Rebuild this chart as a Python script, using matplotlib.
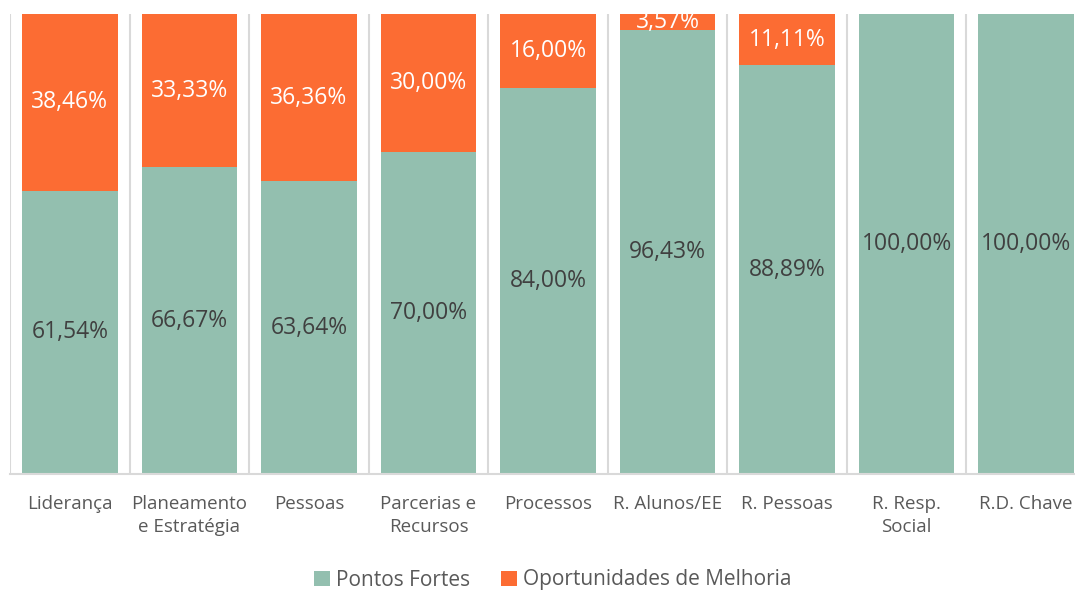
import numpy as np
import matplotlib.pyplot as plt

plt.rcParams['font.family'] = ['Open Sans', 'DejaVu Sans']

categories = ['Liderança', 'Planeamento\ne Estratégia', 'Pessoas', 'Parcerias e\nRecursos',
              'Processos', 'R. Alunos/EE', 'R. Pessoas', 'R. Resp.\nSocial', 'R.D. Chave']
fortes = [61.54, 66.67, 63.64, 70.00, 84.00, 96.43, 88.89, 100.00, 100.00]
melhoria = [38.46, 33.33, 36.36, 30.00, 16.00, 3.57, 11.11, 0.00, 0.00]

green = '#93BFAF'
orange = '#FC6C33'

fig = plt.figure(figsize=(10.75, 5.92), dpi=100)
# plot area runs slightly past the right edge, as in the original
ax = fig.add_axes([10/1075, 118/592, 1076/1075, 460/592])

x = np.arange(len(categories))
b1 = ax.bar(x, fortes, width=0.8, color=green, label='Pontos Fortes', zorder=2)
b2 = ax.bar(x, melhoria, width=0.8, bottom=fortes, color=orange,
            label='Oportunidades de Melhoria', zorder=2)

def fmt(v):
    return ('%.2f%%' % v).replace('.', ',')

for i in x:
    ax.text(i, fortes[i] / 2, fmt(fortes[i]), ha='center', va='center',
            fontsize=16.5, color='#404040', zorder=3)
    if melhoria[i] > 0:
        ax.text(i, fortes[i] + melhoria[i] / 2, fmt(melhoria[i]), ha='center', va='center',
                fontsize=16.5, color='white', zorder=3, clip_on=True)

ax.set_xlim(-0.5, len(categories) - 0.5)
ax.set_ylim(0, 100)
ax.set_xticks(x)
ax.set_xticklabels(categories, fontsize=13.5, color='#595959', linespacing=1.4)
ax.set_xticks(np.arange(len(categories) + 1) - 0.5, minor=True)
ax.tick_params(axis='x', which='both', length=0, pad=15)
ax.set_yticks([])
ax.grid(axis='x', which='minor', color='#D9D9D9', linewidth=1.5, zorder=0)
for s in ['top', 'right', 'left']:
    ax.spines[s].set_visible(False)
ax.spines['bottom'].set_color('#D9D9D9')
ax.spines['bottom'].set_linewidth(1.5)

fig.legend(handles=[b1, b2], loc='center', bbox_to_anchor=(553/1075, 1 - 580/592), ncol=2,
           frameon=False, fontsize=15, labelcolor='#595959', handlelength=0.75,
           handleheight=0.75, handletextpad=0.3, columnspacing=1.5)

plt.savefig('out.png')
